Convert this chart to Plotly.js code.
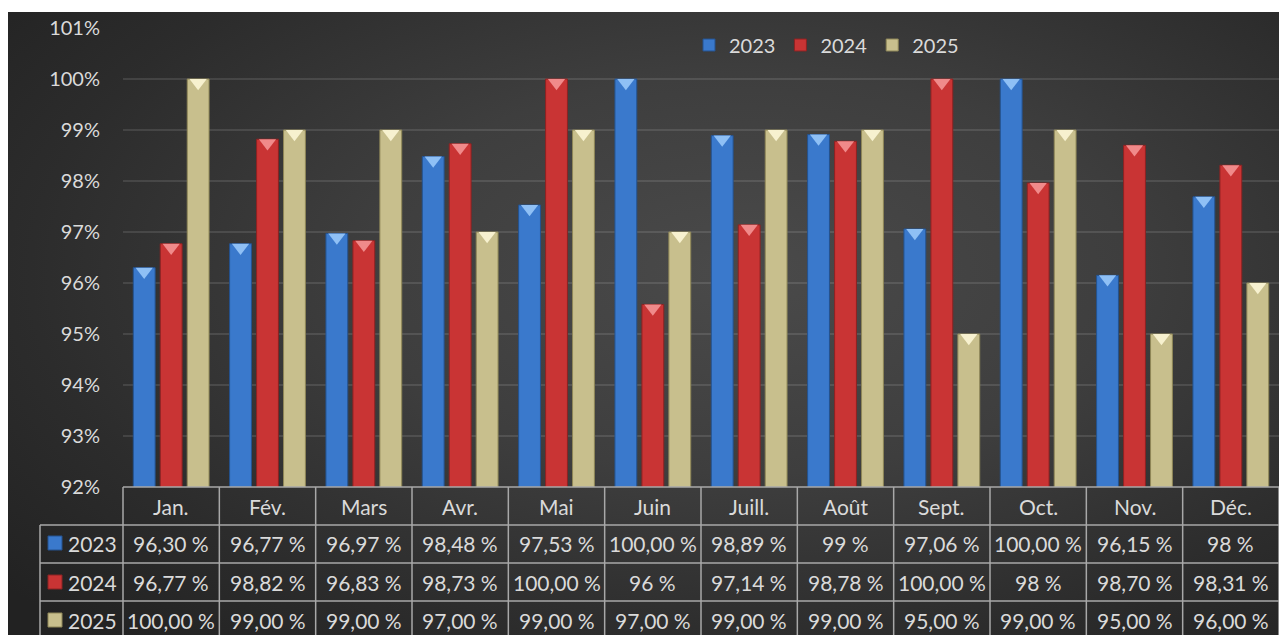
<!DOCTYPE html>
<html><head><meta charset="utf-8">
<script src="https://cdn.plot.ly/plotly-3.0.1.min.js"></script>
<style>
html,body{margin:0;padding:0;background:#ffffff;overflow:hidden;}
#wrap{position:absolute;left:8px;top:12px;width:1271px;height:623px;
background:radial-gradient(ellipse 75% 80% at 58% 42%, #4a4a4a 0%, #3e3e3e 40%, #2c2c2c 75%, #222222 100%);}
#chart{width:1271px;height:623px;}
</style></head><body><div id="wrap"><div id="chart"></div></div>
<script>
// ---- data ----
const months = ['Jan.','Fév.','Mars','Avr.','Mai','Juin','Juill.','Août','Sept.','Oct.','Nov.','Déc.'];
const seriesNames = ['2023','2024','2025'];
const values2023 = [96.30,96.77,96.97,98.48,97.53,100.00,98.89,98.91,97.06,100.00,96.15,97.69];
const values2024 = [96.77,98.82,96.83,98.73,100.00,95.58,97.14,98.78,100.00,97.96,98.70,98.31];
const values2025 = [100.00,99.00,99.00,97.00,99.00,97.00,99.00,99.00,95.00,99.00,95.00,96.00];
const labels2023 = ['96,30 %','96,77 %','96,97 %','98,48 %','97,53 %','100,00 %','98,89 %','99 %','97,06 %','100,00 %','96,15 %','98 %'];
const labels2024 = ['96,77 %','98,82 %','96,83 %','98,73 %','100,00 %','96 %','97,14 %','98,78 %','100,00 %','98 %','98,70 %','98,31 %'];
const labels2025 = ['100,00 %','99,00 %','99,00 %','97,00 %','99,00 %','97,00 %','99,00 %','99,00 %','95,00 %','99,00 %','95,00 %','96,00 %'];
const yTickValues = [92,93,94,95,96,97,98,99,100,101];

// ---- styles ----
const allValues = [values2023, values2024, values2025];
const allLabels = [labels2023, labels2024, labels2025];
const barColors = ['#3a79cc','#c93434','#c8bf8d'];
const barEdges = ['#24528f','#8c2222','#8f8758'];
const capColors = ['#8fc0f5','#f08a8a','#f7f1cf'];
const FONT = 'Lato, "Open Sans", sans-serif';
const TXT = '#dadada';
const GRID = '#a8a8a8';

// page pixel -> paper coordinate helpers (plot area: x 123..1279, y 28..487 on the page)
const px = p => (p - 123) / 1156;
const py = p => (487 - p) / 459;

const traces = [];
allValues.forEach((vals, i) => {
  traces.push({
    type: 'bar', name: seriesNames[i], x: months, y: vals,
    marker: {color: barColors[i], line: {color: barEdges[i], width: 1}},
    hoverinfo: 'skip'
  });
});
allValues.forEach((vals, i) => {
  traces.push({
    type: 'scatter', mode: 'markers', x: months, y: vals, yaxis: 'y2',
    showlegend: false, hoverinfo: 'skip', cliponaxis: false,
    marker: {symbol: 'triangle-down', size: 15, color: capColors[i], line: {width: 0}}
  });
});

const shapes = [];
const annotations = [];
const lineStyle = {color: GRID, width: 1.5};
// table horizontal lines
shapes.push({type:'line', xref:'paper', yref:'paper', x0:0, x1:1, y0:py(487), y1:py(487), line:lineStyle});
[525, 563, 601].forEach(yy => {
  shapes.push({type:'line', xref:'paper', yref:'paper', x0:px(40), x1:1, y0:py(yy), y1:py(yy), line:lineStyle});
});
// table vertical lines
shapes.push({type:'line', xref:'paper', yref:'paper', x0:px(40), x1:px(40), y0:py(525), y1:py(640), line:lineStyle});
for (let k = 0; k <= months.length; k++) {
  const xx = k / months.length;
  shapes.push({type:'line', xref:'paper', yref:'paper', x0:xx, x1:xx, y0:py(487), y1:py(640), line:lineStyle});
}
// header labels
months.forEach(m => {
  annotations.push({xref:'x', yref:'paper', x:m, y:py(506), text:m, showarrow:false,
    font:{family:FONT, size:21, color:TXT}, xanchor:'center', yanchor:'middle'});
});
const rowCenters = [543, 582, 620];
allLabels.forEach((labs, r) => {
  // legend key square
  shapes.push({type:'rect', xref:'paper', yref:'paper', x0:px(48), x1:px(62),
    y0:py(rowCenters[r]+7), y1:py(rowCenters[r]-7),
    fillcolor: barColors[r], line:{color: barEdges[r], width:1}});
  annotations.push({xref:'paper', yref:'paper', x:px(66), y:py(rowCenters[r]), text:seriesNames[r],
    showarrow:false, xanchor:'left', yanchor:'middle', font:{family:FONT, size:21, color:TXT}});
  labs.forEach((t, c) => {
    annotations.push({xref:'x', yref:'paper', x:months[c], y:py(rowCenters[r]), text:t,
      showarrow:false, xanchor:'center', yanchor:'middle', font:{family:FONT, size:21, color:TXT}});
  });
});

const capShift = 3.75 / 51; // cap marker top edge aligned to bar top
const layout = {
  width: 1271, height: 623,
  paper_bgcolor: 'rgba(0,0,0,0)', plot_bgcolor: 'rgba(0,0,0,0)',
  margin: {l:115, r:0, t:16, b:148, pad:0},
  barmode: 'group', bargap: 0.16, bargroupgap: 0.19,
  scattermode: 'group', scattergap: 0.16,
  font: {family: FONT, color: TXT},
  showlegend: true,
  legend: {orientation:'h', x: px(689), xanchor:'left', y: py(45), yanchor:'middle',
    font:{family:FONT, size:20, color:TXT}, bgcolor:'rgba(0,0,0,0)', traceorder:'normal'},
  xaxis: {type:'category', showticklabels:false, showgrid:false, zeroline:false, showline:false, ticks:'', fixedrange:true},
  yaxis: {range:[92,101], tickvals:yTickValues, ticktext:yTickValues.map(v => v + '%'),
    showgrid:true, gridcolor:'rgba(255,255,255,0.11)', gridwidth:2, zeroline:false, showline:false,
    ticks:'', ticklabelstandoff:22, tickfont:{family:FONT, size:20, color:TXT}, fixedrange:true},
  yaxis2: {overlaying:'y', range:[92+capShift, 101+capShift], visible:false, fixedrange:true},
  shapes: shapes,
  annotations: annotations,
  hovermode: false
};
Plotly.newPlot('chart', traces, layout, {displayModeBar:false, staticPlot:true});
</script></body></html>
